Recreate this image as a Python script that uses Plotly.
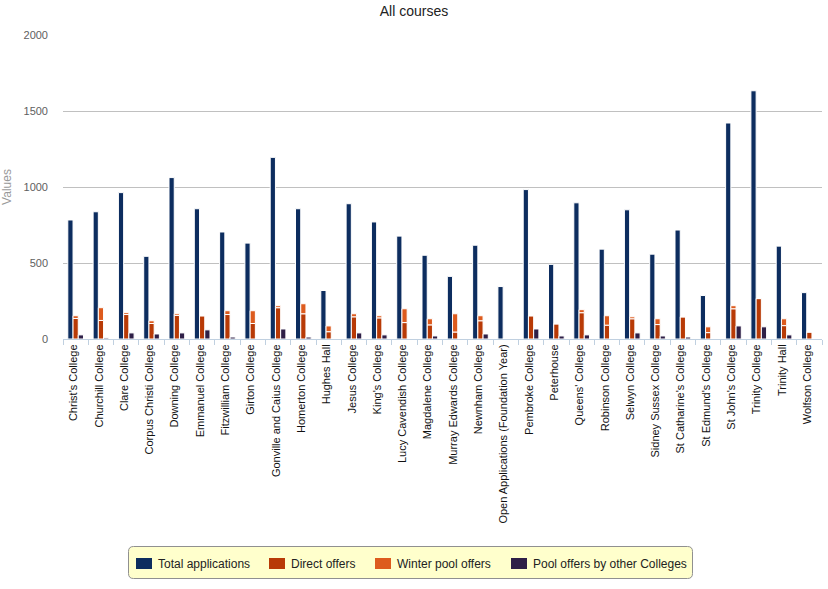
import plotly.graph_objects as go

colleges = ["Christ's College", "Churchill College", "Clare College", "Corpus Christi College",
            "Downing College", "Emmanuel College", "Fitzwilliam College", "Girton College",
            "Gonville and Caius College", "Homerton College", "Hughes Hall", "Jesus College",
            "King's College", "Lucy Cavendish College", "Magdalene College", "Murray Edwards College",
            "Newnham College", "Open Applications (Foundation Year)", "Pembroke College", "Peterhouse",
            "Queens' College", "Robinson College", "Selwyn College", "Sidney Sussex College",
            "St Catharine's College", "St Edmund's College", "St John's College", "Trinity College",
            "Trinity Hall", "Wolfson College"]

total_applications = [783, 837, 963, 544, 1062, 857, 704, 631, 1195, 857, 319, 890,
                      770, 677, 551, 412, 617, 345, 983, 491, 896, 591, 850, 558,
                      717, 286, 1421, 1633, 611, 305]
direct_offers = [135, 122, 161, 102, 155, 153, 161, 102, 206, 166, 48, 146,
                 139, 108, 93, 46, 120, 0, 153, 100, 173, 91, 133, 95,
                 146, 42, 199, 266, 88, 46]
winter_pool_offers = [18, 84, 12, 18, 11, 0, 25, 84, 13, 66, 38, 20,
                      14, 91, 40, 120, 33, 0, 0, 0, 20, 62, 13, 38,
                      0, 38, 20, 0, 45, 0]
pool_offers_other = [27, 7, 40, 33, 40, 60, 13, 0, 66, 13, 0, 40,
                     27, 0, 20, 0, 33, 0, 66, 20, 27, 0, 40, 20,
                     13, 0, 86, 80, 27, 0]

series_names = ["Total applications", "Direct offers", "Winter pool offers",
                "Pool offers by other Colleges"]
series_colors = ["#0D2D5F", "#B83A06", "#DD5B1E", "#2E1F47"]

W, H = 828, 589
L, T = 63, 35
PW, PH = 822 - 63, 339 - 35
R, B = W - L - PW, H - T - PH


def px(x):
    return (x - L) / PW


def py(y):
    return 1 - (y - T) / PH


line = dict(color="white", width=1)
fig = go.Figure()
fig.add_trace(go.Bar(name=series_names[0], x=colleges, y=total_applications,
                     offsetgroup="a", marker=dict(color=series_colors[0], line=line)))
fig.add_trace(go.Bar(name=series_names[1], x=colleges, y=direct_offers,
                     offsetgroup="b", marker=dict(color=series_colors[1], line=line)))
fig.add_trace(go.Bar(name=series_names[2], x=colleges, y=winter_pool_offers,
                     base=direct_offers, offsetgroup="b",
                     marker=dict(color=series_colors[2], line=line)))
fig.add_trace(go.Bar(name=series_names[3], x=colleges, y=pool_offers_other,
                     offsetgroup="c", marker=dict(color=series_colors[3], line=line)))

# custom legend box (rounded)
x0, x1, y0, y1, r = 128.5, 692.5, 546.5, 578.5, 5
rx, ry = r / PW, r / PH
X0, X1, Y0, Y1 = px(x0), px(x1), py(y0), py(y1)
path = (f"M {X0+rx},{Y0} L {X1-rx},{Y0} Q {X1},{Y0} {X1},{Y0-ry} "
        f"L {X1},{Y1+ry} Q {X1},{Y1} {X1-rx},{Y1} L {X0+rx},{Y1} "
        f"Q {X0},{Y1} {X0},{Y1+ry} L {X0},{Y0-ry} Q {X0},{Y0} {X0+rx},{Y0} Z")
shapes = [dict(type="path", xref="paper", yref="paper", path=path,
               fillcolor="#FFFFCC", line=dict(color="#909090", width=1), layer="above")]
annotations = []
sym_x = [136, 269, 375, 511]
for sx, name, col in zip(sym_x, series_names, series_colors):
    shapes.append(dict(type="rect", xref="paper", yref="paper",
                       x0=px(sx), x1=px(sx + 16), y0=py(558), y1=py(569),
                       fillcolor=col, line=dict(width=0), layer="above"))
    annotations.append(dict(xref="paper", yref="paper", x=px(sx + 20), y=py(564),
                            text=name, showarrow=False, xanchor="left", yanchor="middle",
                            font=dict(size=12, color="#222222")))

fig.update_layout(
    barmode="group",
    bargap=0.38,
    bargroupgap=0,
    width=W, height=H,
    margin=dict(l=L, r=R, t=T, b=B, autoexpand=False),
    paper_bgcolor="white", plot_bgcolor="white",
    font=dict(family="Liberation Sans, Arial, sans-serif"),
    title=dict(text="All courses", x=0.5, xanchor="center", y=1 - 11 / H,
               yanchor="middle", font=dict(size=14, color="#222222")),
    showlegend=False,
    shapes=shapes,
    annotations=annotations,
)
fig.update_xaxes(type="category", tickangle=-90, tickson="boundaries", ticks="outside",
                 ticklen=5, tickcolor="#C0D0E0", showline=True, linecolor="#C0D0E0",
                 linewidth=1, showgrid=False, tickfont=dict(size=11, color="#111111"),
                 ticklabelshift=-2, automargin=False)
fig.update_yaxes(range=[0, 2000], dtick=500, showgrid=True, gridcolor="#C0C0C0",
                 zeroline=False, showline=False, ticklabelstandoff=14,
                 tickfont=dict(size=11, color="#606060"), automargin=False,
                 title=dict(text="Values", font=dict(size=12, color="#999999"), standoff=9))

fig.write_html("out.html", config={"displayModeBar": False},
               post_script="document.body.style.margin='0px';"
                           "document.body.style.overflow='hidden';")
